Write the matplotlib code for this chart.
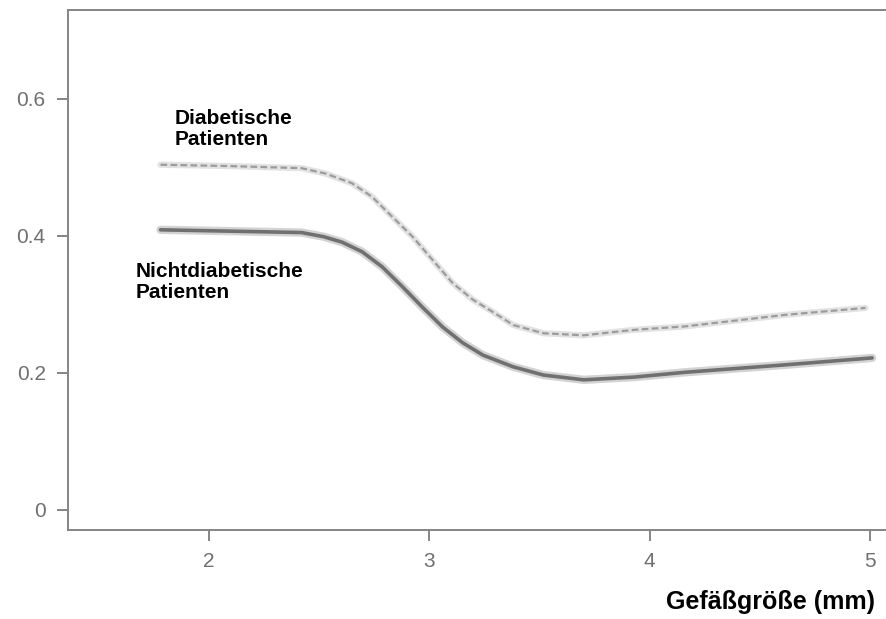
import numpy as np
import matplotlib.pyplot as plt

# --- Dados ---
gefaess_mm = [1.78, 2.10, 2.42, 2.53, 2.649, 2.741, 2.832, 2.924, 3.015, 3.107, 3.198, 3.289,
              3.381, 3.518, 3.701, 3.930, 4.16, 4.62, 4.98]
diabetisch = [0.504, 0.502, 0.499, 0.491, 0.477, 0.457, 0.428, 0.399, 0.365, 0.331, 0.307, 0.289,
              0.270, 0.258, 0.255, 0.263, 0.268, 0.285, 0.295]

gefaess_mm_nd = [1.78, 2.10, 2.42, 2.52, 2.604, 2.695, 2.786, 2.878, 2.969, 3.061, 3.152, 3.244,
                 3.381, 3.518, 3.701, 3.930, 4.16, 4.62, 5.01]
nichtdiabetisch = [0.409, 0.407, 0.405, 0.399, 0.391, 0.377, 0.355, 0.326, 0.296, 0.267, 0.244, 0.226,
                   0.209, 0.197, 0.190, 0.194, 0.201, 0.212, 0.222]

x_ticks = [2, 3, 4, 5]
y_ticks = [0, 0.2, 0.4, 0.6]
y_tick_labels = ['0', '0.2', '0.4', '0.6']

plt.rcParams['font.family'] = ['Liberation Sans', 'DejaVu Sans']

fig = plt.figure(figsize=(8.86, 6.19), dpi=100)
ax = fig.add_axes([0.0767, 0.144, 0.93, 0.84])

# curvas (aspecto "esfumado" do original)
ax.plot(gefaess_mm_nd, nichtdiabetisch, color='#b0b0b0', linewidth=6, alpha=0.55,
        solid_capstyle='round', solid_joinstyle='round')
ax.plot(gefaess_mm_nd, nichtdiabetisch, color='#707070', linewidth=2.6,
        solid_capstyle='round', solid_joinstyle='round')
ax.plot(gefaess_mm, diabetisch, color='#d0d0d0', linewidth=4.5, alpha=0.6,
        solid_capstyle='round', solid_joinstyle='round')
ax.plot(gefaess_mm, diabetisch, color='#9c9c9c', linewidth=1.6, linestyle=(0, (3, 1.5)))

ax.set_xlim(1.36, 5.1)
ax.set_ylim(-0.029, 0.730)
ax.set_xticks(x_ticks)
ax.set_yticks(y_ticks)
ax.set_yticklabels(y_tick_labels)

for s in ['left', 'bottom', 'top']:
    ax.spines[s].set_color('#858585')
    ax.spines[s].set_linewidth(1.4)
ax.spines['right'].set_visible(False)
ax.tick_params(axis='both', direction='out', length=8, width=1.4, color='#858585',
               labelcolor='#707070', labelsize=15, pad=8)

ax.text(1.845, 0.585, 'Diabetische\nPatienten', fontsize=15, fontweight='bold',
        va='top', ha='left', linespacing=1.15)
ax.text(1.665, 0.362, 'Nichtdiabetische\nPatienten', fontsize=15, fontweight='bold',
        va='top', ha='left', linespacing=1.15)

fig.text(875 / 886, 1 - 602 / 619, 'Gefäßgröße (mm)', fontsize=18, fontweight='bold',
         ha='right', va='center')

plt.savefig('out.png', dpi=100)
plt.close()
